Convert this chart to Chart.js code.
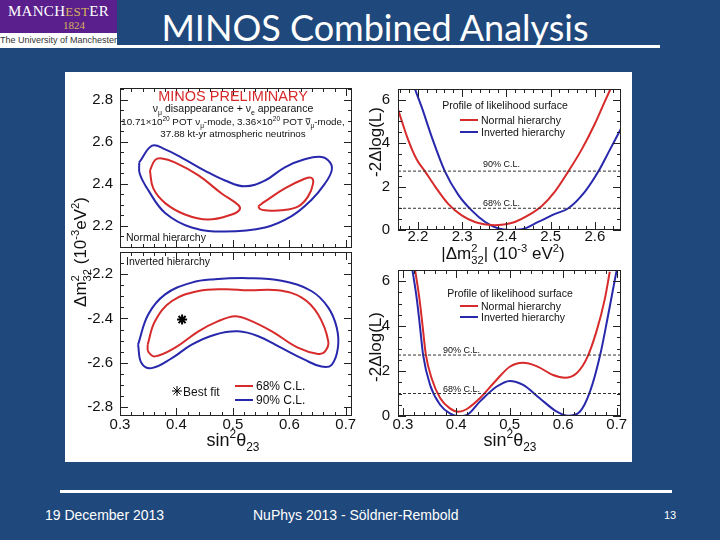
<!DOCTYPE html>
<html>
<head>
<meta charset="utf-8">
<title>MINOS Combined Analysis</title>
<script src="https://cdn.jsdelivr.net/npm/chart.js"></script>
<style>
body { margin: 0; background: #1f497d; }
#slide { position: relative; width: 720px; height: 540px; background: #1f497d; overflow: hidden; font-family: "Liberation Sans", Arial, sans-serif; }
#logo { position: absolute; left: 0; top: 0; width: 117px; height: 33px; background: #5a1f8c; }
#logo .name { position: absolute; left: 0; width: 117px; top: 3px; text-align: center; font: 15px "Liberation Serif", serif; color: #fff; letter-spacing: 0.3px; }
#logo .name span { color: #d9b45a; font-size: 13px; }
#logo .year { position: absolute; left: 63px; top: 19px; font: 11px "Liberation Serif", serif; color: #d9b45a; }
#uni { position: absolute; left: 0; top: 33px; width: 117px; height: 15px; background: #fff; font-size: 9px; line-height: 15px; color: #333; white-space: nowrap; overflow: hidden; }
#title { position: absolute; left: 0; width: 750px; top: 5px; text-align: center; font: 36px Lato, "Open Sans", sans-serif; color: #fff; }
#rule1 { position: absolute; left: 117px; top: 45px; width: 543px; height: 3px; background: #fff; }
#panel { position: absolute; left: 65px; top: 72px; width: 567px; height: 390px; background: #fff; }
canvas { position: absolute; left: 65px; top: 72px; }
#rule2 { position: absolute; left: 60px; top: 490px; width: 612px; height: 3px; background: #fff; }
.foot { position: absolute; top: 507px; font-size: 14px; color: #fff; white-space: nowrap; }
</style>
</head>
<body>
<div id="slide">
  <div id="logo"><div class="name">MANCH<span>EST</span>ER</div><div class="year">1824</div></div>
  <div id="uni">The University of Manchester</div>
  <div id="title">MINOS Combined Analysis</div>
  <div id="rule1"></div>
  <div id="panel"></div>
  <canvas id="cTL" width="567" height="390"></canvas>
  <canvas id="cBL" width="567" height="390"></canvas>
  <canvas id="cTR" width="567" height="390"></canvas>
  <canvas id="cBR" width="567" height="390"></canvas>
  <div id="rule2"></div>
  <div class="foot" style="left:45px">19 December 2013</div>
  <div class="foot" style="left:253px">NuPhys 2013 - Söldner-Rembold</div>
  <div class="foot" style="left:664px; font-size:11px; top:509px">13</div>
</div>
<script>
// ---- data ----
// normal hierarchy contours (sin^2 theta23, dm2_32 in 1e-3 eV^2)
const nh90X = [0.334, 0.357, 0.380, 0.409, 0.450, 0.486, 0.521, 0.557, 0.592, 0.627, 0.657, 0.672, 0.675, 0.663, 0.639, 0.604, 0.557, 0.486, 0.427, 0.380, 0.350, 0.335];
const nh90Y = [2.501, 2.581, 2.563, 2.524, 2.462, 2.415, 2.387, 2.415, 2.478, 2.516, 2.527, 2.501, 2.462, 2.400, 2.322, 2.245, 2.191, 2.172, 2.191, 2.260, 2.369, 2.447];
const nh68aX = [0.353, 0.362, 0.374, 0.397, 0.439, 0.480, 0.509, 0.512, 0.498, 0.456, 0.415, 0.380, 0.359];
const nh68aY = [2.462, 2.512, 2.520, 2.501, 2.439, 2.353, 2.299, 2.276, 2.253, 2.229, 2.253, 2.307, 2.377];
const nh68bX = [0.545, 0.557, 0.592, 0.627, 0.639, 0.642, 0.633, 0.616, 0.586, 0.557, 0.548];
const nh68bY = [2.292, 2.315, 2.377, 2.423, 2.428, 2.400, 2.338, 2.292, 2.273, 2.273, 2.279];

// inverted hierarchy contours
const ih90X = [0.332, 0.350, 0.380, 0.427, 0.468, 0.527, 0.586, 0.639, 0.669, 0.684, 0.686, 0.675, 0.657, 0.627, 0.586, 0.545, 0.509, 0.468, 0.427, 0.392, 0.356, 0.338];
const ih90Y = [-2.518, -2.382, -2.291, -2.238, -2.223, -2.218, -2.230, -2.276, -2.351, -2.442, -2.533, -2.609, -2.617, -2.586, -2.533, -2.480, -2.458, -2.473, -2.518, -2.579, -2.624, -2.601];
const ih68X = [0.349, 0.362, 0.392, 0.439, 0.486, 0.527, 0.580, 0.622, 0.651, 0.669, 0.663, 0.651, 0.616, 0.569, 0.527, 0.504, 0.474, 0.439, 0.397, 0.362, 0.350];
const ih68Y = [-2.518, -2.412, -2.321, -2.276, -2.268, -2.273, -2.273, -2.306, -2.382, -2.503, -2.549, -2.560, -2.533, -2.458, -2.405, -2.390, -2.412, -2.458, -2.533, -2.571, -2.549];
const bestFit = { x: 0.410, y: -2.405 };

// profile vs |dm2_32|
const pdmNhX = [2.155, 2.178, 2.197, 2.216, 2.239, 2.269, 2.299, 2.329, 2.359, 2.374, 2.389, 2.419, 2.449, 2.480, 2.510, 2.540, 2.570, 2.600, 2.622, 2.640];
const pdmNhY = [5.56, 4.15, 3.26, 2.70, 2.00, 1.19, 0.67, 0.37, 0.24, 0.22, 0.24, 0.37, 0.67, 1.11, 1.78, 2.70, 3.70, 4.89, 5.90, 6.70];
const pdmIhX = [2.190, 2.209, 2.231, 2.261, 2.291, 2.322, 2.352, 2.382, 2.408, 2.435, 2.472, 2.510, 2.540, 2.578, 2.608, 2.634, 2.661];
const pdmIhY = [6.67, 5.63, 4.30, 2.70, 1.63, 0.89, 0.37, 0.07, 0.00, 0.03, 0.37, 0.74, 1.00, 1.78, 2.70, 3.70, 4.74];

// profile vs sin^2 theta23
const pthNhX = [0.323, 0.331, 0.337, 0.343, 0.354, 0.370, 0.388, 0.404, 0.419, 0.444, 0.475, 0.500, 0.525, 0.550, 0.581, 0.603, 0.625, 0.644, 0.662, 0.678, 0.687];
const pthNhY = [6.49, 5.23, 4.00, 2.74, 1.67, 0.79, 0.34, 0.19, 0.30, 0.79, 1.60, 2.19, 2.37, 2.22, 1.82, 1.70, 1.90, 2.56, 3.75, 5.23, 6.41];
const pthIhX = [0.318, 0.326, 0.332, 0.338, 0.351, 0.370, 0.388, 0.404, 0.419, 0.444, 0.475, 0.500, 0.525, 0.556, 0.588, 0.609, 0.631, 0.650, 0.669, 0.684, 0.697, 0.701];
const pthIhY = [6.49, 5.23, 4.00, 2.71, 1.38, 0.49, 0.12, 0.00, 0.04, 0.64, 1.30, 1.56, 1.38, 0.79, 0.19, 0.01, 0.19, 1.08, 2.71, 4.49, 6.12, 6.60];

const clLevels = [1.0, 2.71];

// axis ranges and tick labels
const sinRangeL = [0.3, 0.711];
const sinRangeR = [0.291, 0.708];
const nhRange = [2.093, 2.856];
const ihRange = [-2.84, -2.10];
const dmRange = [2.155, 2.659];
const chiRange = [0, 6.49];
const sinTicks = [0.3, 0.4, 0.5, 0.6, 0.7];
const nhTicks = [2.2, 2.4, 2.6, 2.8];
const ihTicks = [-2.8, -2.6, -2.4, -2.2];
const dmTicks = [2.2, 2.3, 2.4, 2.5, 2.6];
const chiTicks = [0, 2, 4, 6];

const RED = '#d72b2b';
const BLUE = '#2828ad';
const FONT = '"Liberation Sans", Arial, sans-serif';

function pts(xs, ys, close) {
  const p = xs.map((x, i) => ({ x: x, y: ys[i] }));
  if (close) p.push({ x: xs[0], y: ys[0] });
  return p;
}

function curve(xs, ys, color, close) {
  return { data: pts(xs, ys, close), showLine: true, borderColor: color, borderWidth: 2, pointRadius: 0, tension: close ? 0.4 : 0, cubicInterpolationMode: close ? 'default' : 'monotone' };
}

function clLine(range, level) {
  return { data: [{ x: range[0], y: level }, { x: range[1], y: level }], showLine: true, borderColor: '#333', borderWidth: 1, borderDash: [3, 2], pointRadius: 0 };
}

// rich text: parts are {t}, {t, bar}, {sup, sub}
function rich(ctx, parts, x, y, size, align, color) {
  const small = size * 0.66;
  const f = s => s.toFixed(1) + 'px ' + FONT;
  const wOf = p => {
    if (p.t != null) { ctx.font = f(size); return ctx.measureText(p.t).width; }
    ctx.font = f(small);
    return Math.max(p.sup ? ctx.measureText(p.sup).width : 0, p.sub ? ctx.measureText(p.sub).width : 0);
  };
  let w = 0;
  parts.forEach(p => { w += wOf(p); });
  let cx = align === 'center' ? x - w / 2 : x;
  ctx.fillStyle = color || '#111';
  ctx.textBaseline = 'alphabetic';
  ctx.textAlign = 'left';
  parts.forEach(p => {
    const pw = wOf(p);
    if (p.t != null) {
      ctx.font = f(size);
      ctx.fillText(p.t, cx, y);
      if (p.bar) ctx.fillRect(cx, y - size * 0.68, pw, Math.max(1, size * 0.08));
    } else {
      ctx.font = f(small);
      if (p.sup) ctx.fillText(p.sup, cx, y - size * 0.42);
      if (p.sub) ctx.fillText(p.sub, cx, y + size * 0.28);
    }
    cx += pw;
  });
}

function steps(lo, hi, d) {
  const out = [];
  for (let k = Math.ceil(lo / d - 1e-6); k * d <= hi + 1e-9; k++) out.push(k * d);
  return out;
}

// ROOT style frame with inward ticks on all four sides
function frame(xMajor, xMinor, yMajor, yMinor) {
  return {
    id: 'frame',
    afterDatasetsDraw(chart) {
      const { ctx, chartArea: a } = chart;
      const sx = chart.scales.x, sy = chart.scales.y;
      ctx.save();
      ctx.strokeStyle = '#222';
      ctx.lineWidth = 1;
      ctx.beginPath();
      const tx = (v, len) => {
        const p = Math.round(sx.getPixelForValue(v)) + 0.5;
        ctx.moveTo(p, a.bottom); ctx.lineTo(p, a.bottom - len);
        ctx.moveTo(p, a.top); ctx.lineTo(p, a.top + len);
      };
      const ty = (v, len) => {
        const p = Math.round(sy.getPixelForValue(v)) + 0.5;
        ctx.moveTo(a.left, p); ctx.lineTo(a.left + len, p);
        ctx.moveTo(a.right, p); ctx.lineTo(a.right - len, p);
      };
      steps(sx.min, sx.max, xMinor).forEach(v => tx(v, 4));
      xMajor.forEach(v => tx(v, 8));
      steps(sy.min, sy.max, yMinor).forEach(v => ty(v, 4));
      yMajor.forEach(v => ty(v, 8));
      ctx.stroke();
      ctx.strokeRect(Math.round(a.left) + 0.5, Math.round(a.top) + 0.5, Math.round(a.right - a.left) - 1, Math.round(a.bottom - a.top) - 1);
      ctx.restore();
    }
  };
}

function axis(range, ticks, o) {
  return {
    type: 'linear', min: range[0], max: range[1], display: o.show !== false,
    grid: { display: false, drawTicks: false }, border: { display: false },
    ticks: { font: { family: 'Liberation Sans', size: 15 }, color: '#111', padding: o.pad, maxRotation: 0, autoSkip: false, callback: o.fmt },
    afterBuildTicks: s => { s.ticks = ticks.map(v => ({ value: v })); },
    afterFit: s => { if (o.w != null) s.width = o.w; if (o.h != null) s.height = o.h; }
  };
}

function makeChart(id, datasets, xs, ys, pad, plugins) {
  return new Chart(document.getElementById(id), {
    type: 'scatter',
    data: { datasets: datasets },
    options: {
      responsive: false, animation: false, devicePixelRatio: 1,
      layout: { padding: pad, autoPadding: false },
      plugins: { legend: { display: false }, tooltip: { enabled: false } },
      scales: { x: xs, y: ys }
    },
    plugins: plugins
  });
}

const f1 = v => v.toFixed(1);
const f0 = v => String(v);

// sample line + label for legends
function key(ctx, x, y, color, label, size) {
  ctx.strokeStyle = color; ctx.lineWidth = 2;
  ctx.beginPath(); ctx.moveTo(x, y); ctx.lineTo(x + 18, y); ctx.stroke();
  rich(ctx, [{ t: label }], x + 21, y + size * 0.36, size, 'left', '#111');
}

const chiTitle = [{ t: '-2\u0394log(L)' }];
const sinTitle = [{ t: 'sin' }, { sup: '2' }, { t: '\u03b8' }, { sub: '23' }];

// top left: normal hierarchy
makeChart('cTL', [
  curve(nh90X, nh90Y, BLUE, true),
  curve(nh68aX, nh68aY, RED, true),
  curve(nh68bX, nh68bY, RED, true)
], axis(sinRangeL, sinTicks, { show: false }),
   axis(nhRange, nhTicks, { w: 55, pad: 7, fmt: f1 }),
   { left: 0, right: 280, top: 12, bottom: 214 },
   [frame(sinTicks, 0.02, nhTicks, 0.05), {
     id: 'notes',
     afterDraw(c) {
       const ctx = c.ctx;
       ctx.save();
       rich(ctx, [{ t: 'MINOS PRELIMINARY' }], 168, 29, 14.5, 'center', RED);
       rich(ctx, [{ t: '\u03bd' }, { sub: '\u03bc' }, { t: ' disappearance + ' }, { t: '\u03bd' }, { sub: 'e' }, { t: ' appearance' }], 168, 40, 10.5, 'center');
       rich(ctx, [{ t: '10.71\u00d710' }, { sup: '20' }, { t: ' POT \u03bd' }, { sub: '\u03bc' }, { t: '-mode, 3.36\u00d710' }, { sup: '20' }, { t: ' POT ' }, { t: '\u03bd', bar: true }, { sub: '\u03bc' }, { t: '-mode,' }], 168, 53, 9.8, 'center');
       rich(ctx, [{ t: '37.88 kt-yr atmospheric neutrinos' }], 168, 65, 9.8, 'center');
       rich(ctx, [{ t: 'Normal hierarchy' }], 61, 169, 10.5, 'left');
       // shared y title
       ctx.translate(15, 180);
       ctx.rotate(-Math.PI / 2);
       rich(ctx, [{ t: '\u0394m' }, { sup: '2', sub: '32' }, { t: ' (10' }, { sup: '-3' }, { t: 'eV' }, { sup: '2' }, { t: ')' }], 0, 6, 17, 'center');
       ctx.restore();
     }
   }]);

// bottom left: inverted hierarchy
makeChart('cBL', [
  curve(ih90X, ih90Y, BLUE, true),
  curve(ih68X, ih68Y, RED, true),
  { data: [bestFit], pointStyle: 'star', pointRadius: 5, borderColor: '#000', backgroundColor: '#000', borderWidth: 2 }
], axis(sinRangeL, sinTicks, { h: 40, pad: 0, fmt: f1 }),
   axis(ihRange, ihTicks, { w: 55, pad: 7, fmt: f1 }),
   { left: 0, right: 280, top: 180, bottom: 6 },
   [frame(sinTicks, 0.02, ihTicks, 0.05), {
     id: 'notes',
     afterDraw(c) {
       const ctx = c.ctx;
       ctx.save();
       rich(ctx, [{ t: 'Inverted hierarchy' }], 61, 193, 10.5, 'left');
       ctx.strokeStyle = '#000';
       Chart.helpers.drawPoint(ctx, { pointStyle: 'star', radius: 5, borderWidth: 2, rotation: 0 }, 112, 319);
       rich(ctx, [{ t: 'Best fit' }], 118, 324, 12, 'left');
       key(ctx, 170, 314, RED, '68% C.L.', 12);
       key(ctx, 170, 328, BLUE, '90% C.L.', 12);
       rich(ctx, sinTitle, 168, 374, 18, 'center');
       ctx.restore();
     }
   }]);

// top right: profile vs |dm2_32|
makeChart('cTR', [
  clLine(dmRange, clLevels[1]),
  clLine(dmRange, clLevels[0]),
  curve(pdmNhX, pdmNhY, RED, false),
  curve(pdmIhX, pdmIhY, BLUE, false)
], axis(dmRange, dmTicks, { h: 30, pad: -2, fmt: f1 }),
   axis(chiRange, chiTicks, { w: 30, pad: 8, fmt: f0 }),
   { left: 303, right: 11, top: 12, bottom: 202 },
   [frame(dmTicks, 0.02, chiTicks, 0.5), {
     id: 'notes',
     afterDraw(c) {
       const ctx = c.ctx;
       ctx.save();
       rich(ctx, [{ t: 'Profile of likelihood surface' }], 440, 37, 10.5, 'center');
       key(ctx, 395, 48, RED, 'Normal hierarchy', 10.5);
       key(ctx, 395, 60, BLUE, 'Inverted hierarchy', 10.5);
       rich(ctx, [{ t: '90% C.L.' }], 418, 95, 9, 'left');
       rich(ctx, [{ t: '68% C.L.' }], 418, 134, 9, 'left');
       rich(ctx, [{ t: '|\u0394m' }, { sup: '2', sub: '32' }, { t: '| (10' }, { sup: '-3' }, { t: ' eV' }, { sup: '2' }, { t: ')' }], 438, 187, 17, 'center');
       ctx.translate(310, 70);
       ctx.rotate(-Math.PI / 2);
       rich(ctx, chiTitle, 0, 6, 17, 'center');
       ctx.restore();
     }
   }]);

// bottom right: profile vs sin^2 theta23
makeChart('cBR', [
  clLine(sinRangeR, clLevels[1]),
  clLine(sinRangeR, clLevels[0]),
  curve(pthNhX, pthNhY, RED, false),
  curve(pthIhX, pthIhY, BLUE, false)
], axis(sinRangeR, sinTicks, { h: 30, pad: 0, fmt: f1 }),
   axis(chiRange, chiTicks, { w: 30, pad: 8, fmt: f0 }),
   { left: 303, right: 11, top: 198, bottom: 16 },
   [frame(sinTicks, 0.02, chiTicks, 0.5), {
     id: 'notes',
     afterDraw(c) {
       const ctx = c.ctx;
       ctx.save();
       rich(ctx, [{ t: 'Profile of likelihood surface' }], 445, 225, 10.5, 'center');
       key(ctx, 395, 234, RED, 'Normal hierarchy', 10.5);
       key(ctx, 395, 245, BLUE, 'Inverted hierarchy', 10.5);
       rich(ctx, [{ t: '90% C.L.' }], 378, 281, 9, 'left');
       rich(ctx, [{ t: '68% C.L.' }], 378, 320, 9, 'left');
       rich(ctx, sinTitle, 445, 374, 18, 'center');
       ctx.translate(310, 275);
       ctx.rotate(-Math.PI / 2);
       rich(ctx, chiTitle, 0, 6, 17, 'center');
       ctx.restore();
     }
   }]);
</script>
</body>
</html>
